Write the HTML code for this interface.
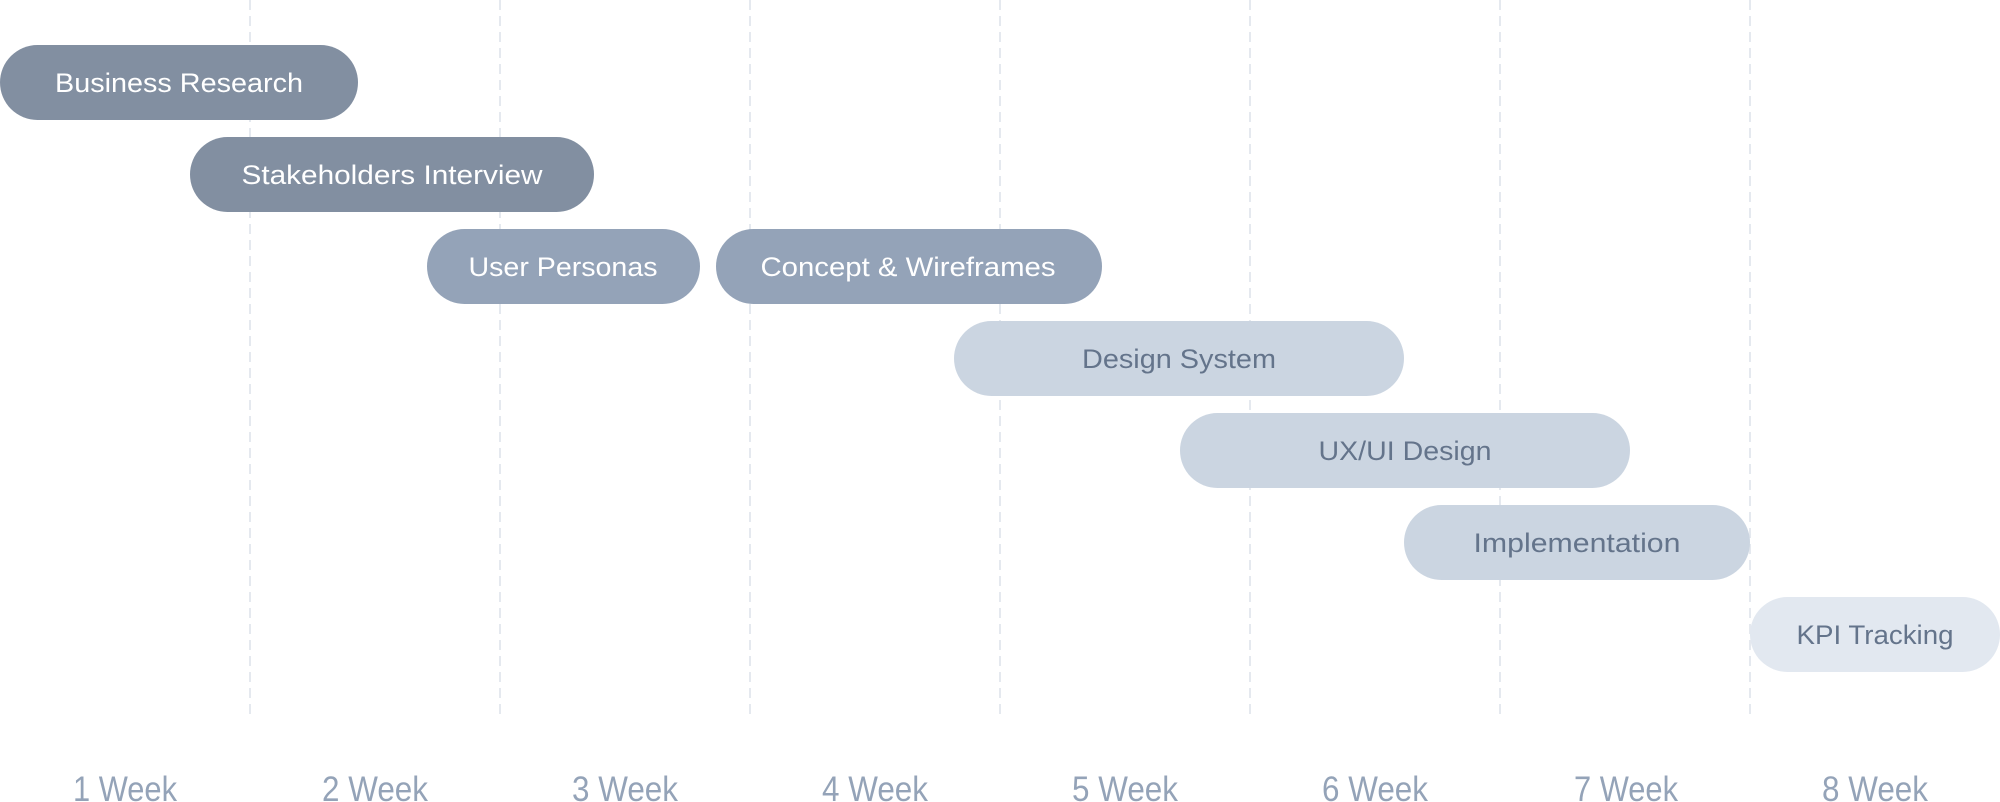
<!DOCTYPE html>
<html><head><style>
html,body{margin:0;padding:0;background:#fff;}
svg{display:block;}
text{font-family:"Liberation Sans",sans-serif;}
</style></head><body>
<svg width="2000" height="802" viewBox="0 0 2000 802" xmlns="http://www.w3.org/2000/svg">
<g stroke="#e5e9ef" stroke-width="2" stroke-dasharray="10 6">
<line x1="250" y1="0" x2="250" y2="716"/>
<line x1="500" y1="0" x2="500" y2="716"/>
<line x1="750" y1="0" x2="750" y2="716"/>
<line x1="1000" y1="0" x2="1000" y2="716"/>
<line x1="1250" y1="0" x2="1250" y2="716"/>
<line x1="1500" y1="0" x2="1500" y2="716"/>
<line x1="1750" y1="0" x2="1750" y2="716"/>
</g>
<g>
<rect x="0" y="45" width="358" height="75" rx="37.5" fill="#828fa1"/>
<rect x="190" y="137" width="404" height="75" rx="37.5" fill="#828fa1"/>
<rect x="427" y="229" width="273" height="75" rx="37.5" fill="#94a3b8"/>
<rect x="716" y="229" width="386" height="75" rx="37.5" fill="#94a3b8"/>
<rect x="954" y="321" width="450" height="75" rx="37.5" fill="#cbd5e1"/>
<rect x="1180" y="413" width="450" height="75" rx="37.5" fill="#cbd5e1"/>
<rect x="1404" y="505" width="346" height="75" rx="37.5" fill="#cbd5e1"/>
<rect x="1750" y="597" width="250" height="75" rx="37.5" fill="#e2e8f0"/>
</g>
<g font-size="27" text-anchor="middle" lengthAdjust="spacingAndGlyphs">
<text x="179" y="92" fill="#fff" textLength="248" lengthAdjust="spacingAndGlyphs">Business Research</text>
<text x="392" y="184" fill="#fff" textLength="301" lengthAdjust="spacingAndGlyphs">Stakeholders Interview</text>
<text x="563" y="276" fill="#fff" textLength="189" lengthAdjust="spacingAndGlyphs">User Personas</text>
<text x="908" y="276" fill="#fff" textLength="295" lengthAdjust="spacingAndGlyphs">Concept &amp; Wireframes</text>
<text x="1179" y="368" fill="#64748b" textLength="194" lengthAdjust="spacingAndGlyphs">Design System</text>
<text x="1405" y="460" fill="#64748b" textLength="173" lengthAdjust="spacingAndGlyphs">UX/UI Design</text>
<text x="1577" y="552" fill="#64748b" textLength="207" lengthAdjust="spacingAndGlyphs">Implementation</text>
<text x="1875" y="644" fill="#64748b" textLength="157" lengthAdjust="spacingAndGlyphs">KPI Tracking</text>
</g>
<g font-size="35" fill="#94a3b8" text-anchor="middle">
<text x="125" y="801" textLength="104" lengthAdjust="spacingAndGlyphs">1 Week</text>
<text x="375" y="801" textLength="106" lengthAdjust="spacingAndGlyphs">2 Week</text>
<text x="625" y="801" textLength="106" lengthAdjust="spacingAndGlyphs">3 Week</text>
<text x="875" y="801" textLength="106" lengthAdjust="spacingAndGlyphs">4 Week</text>
<text x="1125" y="801" textLength="106" lengthAdjust="spacingAndGlyphs">5 Week</text>
<text x="1375" y="801" textLength="106" lengthAdjust="spacingAndGlyphs">6 Week</text>
<text x="1626" y="801" textLength="104" lengthAdjust="spacingAndGlyphs">7 Week</text>
<text x="1875" y="801" textLength="106" lengthAdjust="spacingAndGlyphs">8 Week</text>
</g>
</svg>
</body></html>
